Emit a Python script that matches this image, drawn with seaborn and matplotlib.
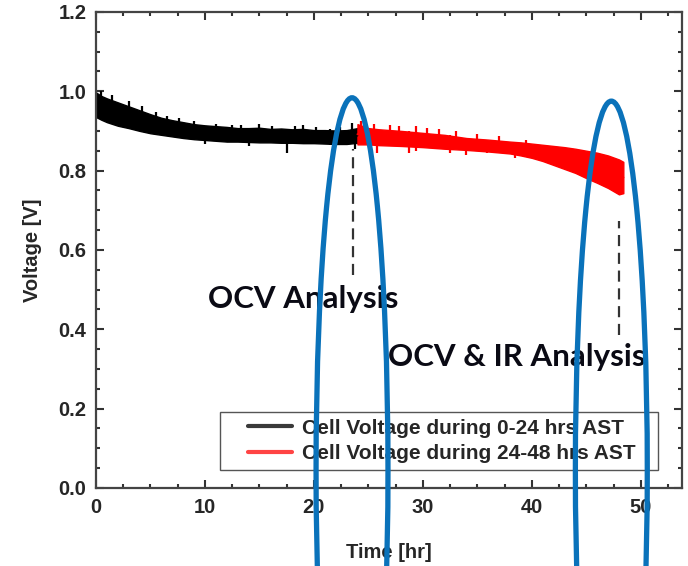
import numpy as np
import pandas as pd
import matplotlib
matplotlib.use('Agg')
import matplotlib.pyplot as plt
from matplotlib.patches import Ellipse, Rectangle
from matplotlib.lines import Line2D
from matplotlib.ticker import MultipleLocator
import seaborn as sns

# Cell voltage envelope (lower / upper edge of the noisy trace)
t_black = [0, 0.5, 1, 2, 3, 4, 5, 6, 7, 8, 9, 10, 11, 12, 13, 14, 15, 16, 17, 18,
           19, 20, 21, 22, 23, 24]
lo_black = [0.935, 0.928, 0.922, 0.913, 0.907, 0.900, 0.894, 0.890, 0.886, 0.882,
            0.879, 0.877, 0.875, 0.873, 0.873, 0.872, 0.871, 0.871, 0.870, 0.870,
            0.869, 0.869, 0.868, 0.867, 0.867, 0.870]
hi_black = [0.997, 0.988, 0.982, 0.972, 0.962, 0.952, 0.942, 0.933, 0.927, 0.922,
            0.917, 0.914, 0.912, 0.910, 0.907, 0.907, 0.908, 0.905, 0.906, 0.904,
            0.905, 0.902, 0.902, 0.901, 0.902, 0.907]

t_red = [24, 25, 26, 28, 30, 32, 34, 36, 38, 39, 40, 41, 42, 43, 44, 45, 46, 47, 48, 48.4]
lo_red = [0.866, 0.866, 0.864, 0.862, 0.859, 0.855, 0.852, 0.848, 0.843, 0.838,
          0.832, 0.824, 0.814, 0.804, 0.794, 0.781, 0.769, 0.756, 0.740, 0.743]
hi_red = [0.917, 0.907, 0.904, 0.900, 0.895, 0.890, 0.882, 0.878, 0.873, 0.871,
          0.868, 0.865, 0.862, 0.859, 0.855, 0.850, 0.845, 0.838, 0.828, 0.822]

# Isolated noise spikes (time, low, high)
spk_black_t = [0.5, 1.5, 3, 4.2, 5.5, 6.5, 7.6, 9, 10, 11, 12.5, 13.3, 14, 15, 16.2,
               17.5, 18.3, 19, 20.2, 21.5, 22.4, 23.5, 23.8]
spk_black_lo = [0.95, 0.94, 0.93, 0.92, 0.90, 0.90, 0.89, 0.89, 0.866, 0.88, 0.88, 0.88,
                0.862, 0.88, 0.88, 0.845, 0.88, 0.88, 0.875, 0.865, 0.875, 0.88, 0.855]
spk_black_hi = [1.000, 0.990, 0.975, 0.962, 0.948, 0.938, 0.932, 0.925, 0.90, 0.918,
                0.915, 0.914, 0.90, 0.918, 0.913, 0.90, 0.912, 0.915, 0.910, 0.905,
                0.911, 0.920, 0.90]
spk_red_t = [24.3, 25.5, 25.8, 27, 27.8, 28.7, 29.4, 30.4, 31.5, 32.5, 33, 34, 35, 35.9,
             37, 38.5, 39.5]
spk_red_lo = [0.88, 0.88, 0.845, 0.88, 0.87, 0.843, 0.850, 0.87, 0.87, 0.845, 0.865,
              0.840, 0.86, 0.843, 0.855, 0.832, 0.845]
spk_red_hi = [0.925, 0.918, 0.90, 0.915, 0.912, 0.90, 0.912, 0.908, 0.905, 0.89, 0.900,
              0.88, 0.892, 0.875, 0.887, 0.87, 0.878]

labels = ['Cell Voltage during 0-24 hrs AST', 'Cell Voltage during 24-48 hrs AST']
colors = ['black', '#ff0000']

# analysis markers
ocv_t = [23.6, 48.0]
ocv_lo = [0.536, 0.385]
ocv_hi = [0.855, 0.674]
notes = ['OCV Analysis', 'OCV & IR Analysis']
note_x = [10.3, 26.8]
note_y = [0.475, 0.33]

# long table for seaborn: two rows per time (low and high edge)
rows = []
for name, tt, lo, hi in [(labels[0], t_black, lo_black, hi_black),
                         (labels[1], t_red, lo_red, hi_red)]:
    for a, b, c in zip(tt, lo, hi):
        rows.append((name, a, b))
        rows.append((name, a, c))
df = pd.DataFrame(rows, columns=['series', 'time', 'voltage'])

sns.set_style('ticks')
plt.rcParams['font.family'] = ['Liberation Sans', 'DejaVu Sans']

fig = plt.figure(figsize=(6.88, 5.66), dpi=100)
ax = fig.add_axes([0.1395, 0.138, 0.852, 0.841])

sns.lineplot(data=df, x='time', y='voltage', hue='series', palette=colors,
             errorbar=('pi', 100), err_kws={'alpha': 1, 'linewidth': 1.0},
             linewidth=1.5, legend=False, ax=ax)
for c in ax.collections:
    c.set_edgecolor(c.get_facecolor())

ax.vlines(spk_black_t, spk_black_lo, spk_black_hi, color='black', linewidth=1.6)
ax.vlines(spk_red_t, spk_red_lo, spk_red_hi, color='#ff0000', linewidth=1.6)

ax.vlines(ocv_t, ocv_lo, ocv_hi, color='#333333', linewidth=1.6,
          linestyles=(0, (5, 3)))

for s, x, y in zip(notes, note_x, note_y):
    ax.text(x, y, s, fontsize=22.5, fontweight='bold', family='Lato',
            color='#0a0a14', va='center', ha='left')

ax.set_xlim(0, 53.8)
ax.set_ylim(0, 1.2)
ax.xaxis.set_major_locator(MultipleLocator(10))
ax.xaxis.set_minor_locator(MultipleLocator(2.5))
ax.yaxis.set_major_locator(MultipleLocator(0.2))
ax.yaxis.set_minor_locator(MultipleLocator(0.05))
ax.yaxis.set_major_formatter(matplotlib.ticker.FormatStrFormatter('%.1f'))
ax.tick_params(which='both', direction='in', top=True, right=True,
               color='#333333', width=1.5)
ax.tick_params(which='major', length=6, labelsize=14.5, pad=7)
ax.tick_params(which='minor', length=3)
for lab in ax.get_xticklabels() + ax.get_yticklabels():
    lab.set_fontweight('bold')
for sp in ax.spines.values():
    sp.set_color('#444444')
    sp.set_linewidth(1.6)

ax.set_xlabel('Time [hr]', fontsize=14.5, fontweight='bold', labelpad=19)
ax.set_ylabel('Voltage [V]', fontsize=14.5, fontweight='bold', labelpad=12)

# legend: frame drawn separately so it can be wider than its content
ax.add_patch(Rectangle((0.2116, 0.0378), 0.7474, 0.1219, transform=ax.transAxes,
                       facecolor='white', edgecolor='#555555', linewidth=1.0, zorder=4))
handles = [Line2D([], [], color='#3a3a3a', lw=3),
           Line2D([], [], color='#ff4444', lw=3)]
leg = ax.legend(handles, labels, loc='center left', bbox_to_anchor=(0.2594, 0.0988),
                frameon=False, handlelength=2.1, handletextpad=0.5, borderpad=0,
                borderaxespad=0, labelspacing=0.3, prop={'weight': 'bold', 'size': 15})
leg.set_zorder(5)

# blue highlight ellipses drawn over the figure
for cx, h in [(23.5, 1.877), (47.3, 1.86)]:
    ax.add_patch(Ellipse((cx, 0.045), 6.6, h, fill=False, edgecolor='#0a72ba',
                         linewidth=3.8, clip_on=False, zorder=10))

fig.savefig('out.png', dpi=100)
